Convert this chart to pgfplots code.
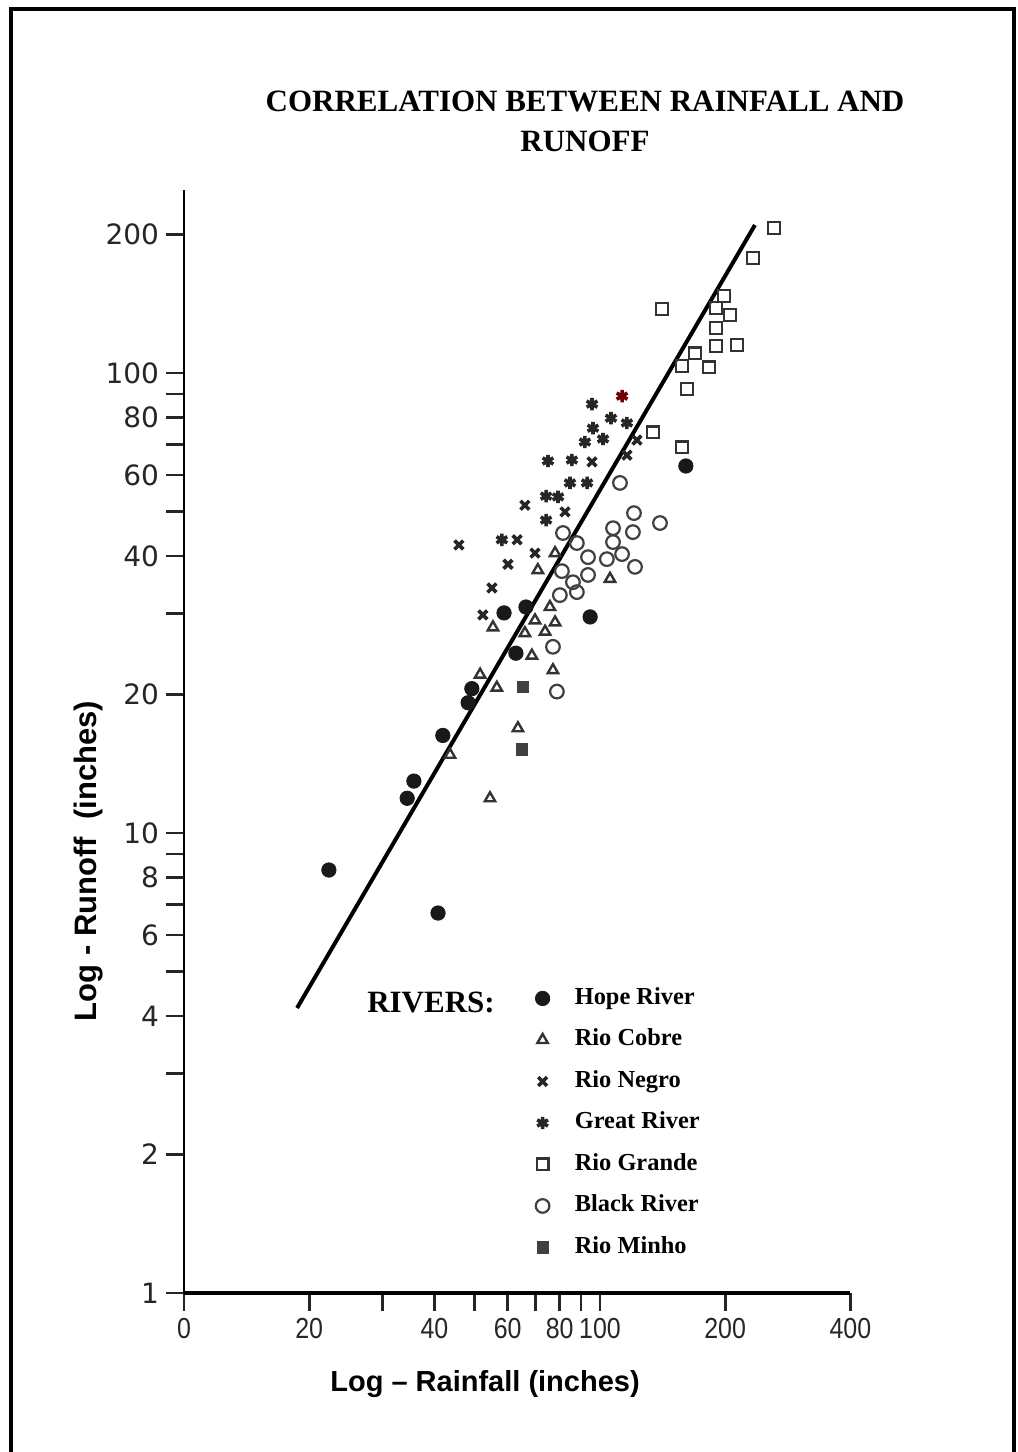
\documentclass[border=0pt]{standalone}
\usepackage{fontspec}
\usepackage{graphicx}
\setmainfont{Liberation Serif}
\newfontfamily\sansf{Liberation Sans}
\newfontfamily\tickf{DejaVu Sans}
\usepackage{pgfplots}
\pgfplotsset{compat=1.18}
\newcommand\xs[1]{\scalebox{0.86}[1]{#1}}
\begin{document}
\begin{tikzpicture}
\useasboundingbox (0,0) rectangle (509pt,-726pt);
\fill[white] (0,0) rectangle (509pt,-726pt);
\draw[line width=2pt, line join=miter] (5.5pt,-726pt) -- (5.5pt,-4.5pt) -- (507pt,-4.5pt) -- (507pt,-726pt);
\begin{axis}[
  at={(92pt,-646.5pt)}, anchor=south west,
  scale only axis, width=333.2pt, height=551.5pt,
  xmode=log, ymode=log,
  xmin=10, xmax=400, ymin=1, ymax=250,
  enlargelimits=false,
  axis lines*=left,
  x axis line style={line width=2.2pt},
  y axis line style={line width=1.3pt},
  xtick={10,20,30,40,50,60,70,80,90,100,200,400},
  xticklabels={\xs{0},\xs{20},,\xs{40},,\xs{60},,\xs{80},,\xs{100},\xs{200},\xs{400}},
  ytick={1,2,3,4,5,6,7,8,9,10,20,30,40,50,60,70,80,90,100,200},
  yticklabels={1,2,,4,,6,,8,,10,20,,40,,60,,80,,100,200},
  xminorticks=false, yminorticks=false,
  tick align=outside,
  major tick length=9pt,
  tick style={line width=1.4pt, black!85},
  xticklabel style={font=\sansf\fontsize{14.5}{14.5}\selectfont, text=black!85},
  yticklabel style={font=\tickf\fontsize{14}{14}\selectfont, text=black!85},
  /pgf/number format/assume math mode=true,
  clip=false,
  legend cell align=left,
  legend image code/.code={\draw[#1] plot coordinates {(0pt,0pt)};},
  legend style={
    at={(axis description cs:0.5267,0.2801)}, anchor=north west,
    draw=none, fill=none, inner sep=0pt,
    font=\fontsize{12.2}{12.2}\selectfont\bfseries,
    row sep=6.75pt,
    nodes={inner sep=1pt, text height=9pt, text depth=3pt},
    /tikz/every odd column/.append style={column sep=11.5pt},
  },
]
% regression line
\addplot[line width=2pt, black, forget plot] coordinates {(18.7,4.165) (235.8,209.8)};
% Hope River
\addplot[only marks, mark=*, mark size=3.6pt, black!90] coordinates {
(22.3,8.31) (40.8,6.70) (34.4,11.9) (35.7,12.97) (41.9,16.3) (48.2,19.2) (49.2,20.6) (62.8,24.6) (58.8,30.1) (66.4,31.0) (94.7,29.5) (160.9,62.8)};
\addlegendentry{Hope River}
% Rio Cobre
\addplot[only marks, mark=triangle, mark size=3pt, black!80, mark options={line width=1.2pt}] coordinates {
(78.0,40.6) (70.9,37.3) (105.7,35.7) (75.8,31.0) (78.0,28.7) (69.8,29.0) (55.3,28.0) (66.0,27.2) (73.8,27.4) (68.6,24.3) (77.1,22.6) (56.5,20.7) (51.5,22.1) (63.5,16.9) (43.6,14.8) (54.4,11.9)};
\addlegendentry{Rio Cobre}
% Rio Negro
\addplot[only marks, mark=x, mark size=3.1pt, black!85, mark options={line width=1.8pt}] coordinates {
(95.7,64.1) (116.1,66.3) (122.7,71.5) (66.0,51.6) (82.4,49.9) (45.8,42.3) (63.2,43.4) (69.8,40.6) (60.1,38.4) (55.0,34.1) (52.3,29.8)};
\addlegendentry{Rio Negro}
% Great River
\addplot[only marks, mark=asterisk, mark size=3.1pt, black!85, mark options={line width=1.8pt}] coordinates {
(95.7,85.6) (106.3,79.8) (116.1,77.9) (96.2,75.9) (101.7,71.9) (92.0,70.8) (75.0,64.4) (85.6,64.7) (84.7,57.7) (93.1,57.7) (74.2,54.0) (79.3,53.8) (74.2,47.9) (58.1,43.4)};
\addlegendentry{Great River}
% Rio Grande
\addplot[only marks, mark=square, mark size=2.9pt, black!80, mark options={line width=1.2pt}] coordinates {
(261.9,206.7) (233.2,177.8) (198.7,147.1) (190.0,138.5) (205.4,133.7) (190.0,125.3) (190.0,114.5) (213.5,115.1) (169.2,110.5) (157.4,103.6) (182.8,103.0) (161.9,92.3) (140.9,137.8) (134.1,74.4) (157.4,69.0)};
\addlegendentry{Rio Grande}
% Black River
\addplot[only marks, mark=o, mark size=3.4pt, black!75, mark options={line width=1.1pt}] coordinates {
(111.7,57.7) (120.7,49.6) (139.4,47.2) (107.5,46.0) (120.0,45.1) (81.5,44.9) (88.0,42.7) (107.5,42.9) (93.6,39.8) (103.9,39.4) (113.0,40.4) (121.4,37.9) (81.0,37.1) (93.6,36.4) (86.1,35.1) (88.0,33.4) (80.1,32.9) (77.1,25.4) (78.8,20.3)};
\addlegendentry{Black River}
% Rio Minho
\addplot[only marks, mark=square*, mark size=2.8pt, black!75] coordinates {
(65.3,20.8) (64.9,15.2)};
\addlegendentry{Rio Minho}
% reddish Great River point
\addplot[only marks, mark=asterisk, mark size=3.1pt, red!45!black, mark options={line width=1.8pt}, forget plot] coordinates {(113.0,89.1)};
\end{axis}
% title
\node[anchor=base, font=\fontsize{15.5}{20}\selectfont\bfseries] at (292.5pt,-55.5pt) {CORRELATION BETWEEN RAINFALL AND};
\node[anchor=base, font=\fontsize{15.5}{20}\selectfont\bfseries] at (292.5pt,-75.5pt) {RUNOFF};
% legend heading
\node[font=\fontsize{15.5}{15.5}\selectfont\bfseries] at (215.5pt,-501pt) {RIVERS:};
% axis labels
\node[anchor=base, font=\sansf\bfseries\fontsize{14.5}{14.5}\selectfont] at (242.5pt,-695.5pt) {Log \textendash{} Rainfall (inches)};
\node[anchor=base, rotate=90, font=\sansf\bfseries\fontsize{15.5}{15.5}\selectfont] at (48pt,-430.5pt) {Log - Runoff\ \ (inches)};
\end{tikzpicture}
\end{document}
